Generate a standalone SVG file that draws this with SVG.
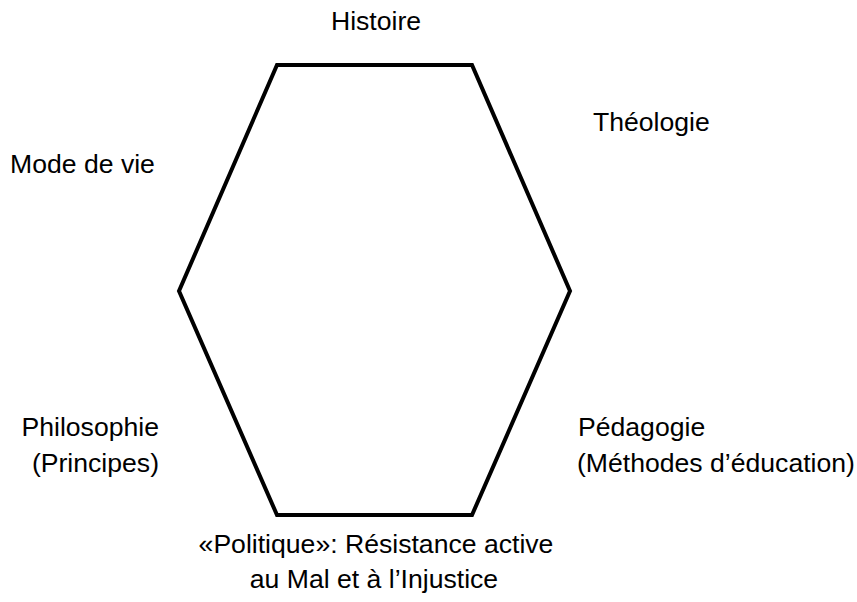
<svg xmlns="http://www.w3.org/2000/svg" width="857" height="602" viewBox="0 0 857 602">
<style>
  text { font-family: "Liberation Sans", Arial, sans-serif; font-size: 26.6px; fill: #000; }
  .shape { fill: none; stroke: #000; stroke-width: 4; stroke-linejoin: miter; }
</style>
<rect width="857" height="602" fill="#fff"/>
<g id="hexagon">
  <polygon class="shape" points="277,65 472,65 570,291 472,515 277,515 179,291"/>
</g>
<g id="connectors"></g>
<g id="label-histoire"><text x="376" y="30" text-anchor="middle">Histoire</text></g>
<g id="label-theologie"><text x="593" y="131">Théologie</text></g>
<g id="label-mode"><text x="10" y="173">Mode de vie</text></g>
<g id="label-philosophie">
  <text x="159" y="436" text-anchor="end">Philosophie</text>
  <text x="159" y="472" text-anchor="end">(Principes)</text>
</g>
<g id="label-pedagogie">
  <text x="578" y="436">Pédagogie</text>
  <text x="577" y="472">(Méthodes d’éducation)</text>
</g>
<g id="label-politique">
  <text x="376" y="553" text-anchor="middle">«Politique»: Résistance active</text>
  <text x="374" y="588" text-anchor="middle">au Mal et à l’Injustice</text>
</g>
</svg>
